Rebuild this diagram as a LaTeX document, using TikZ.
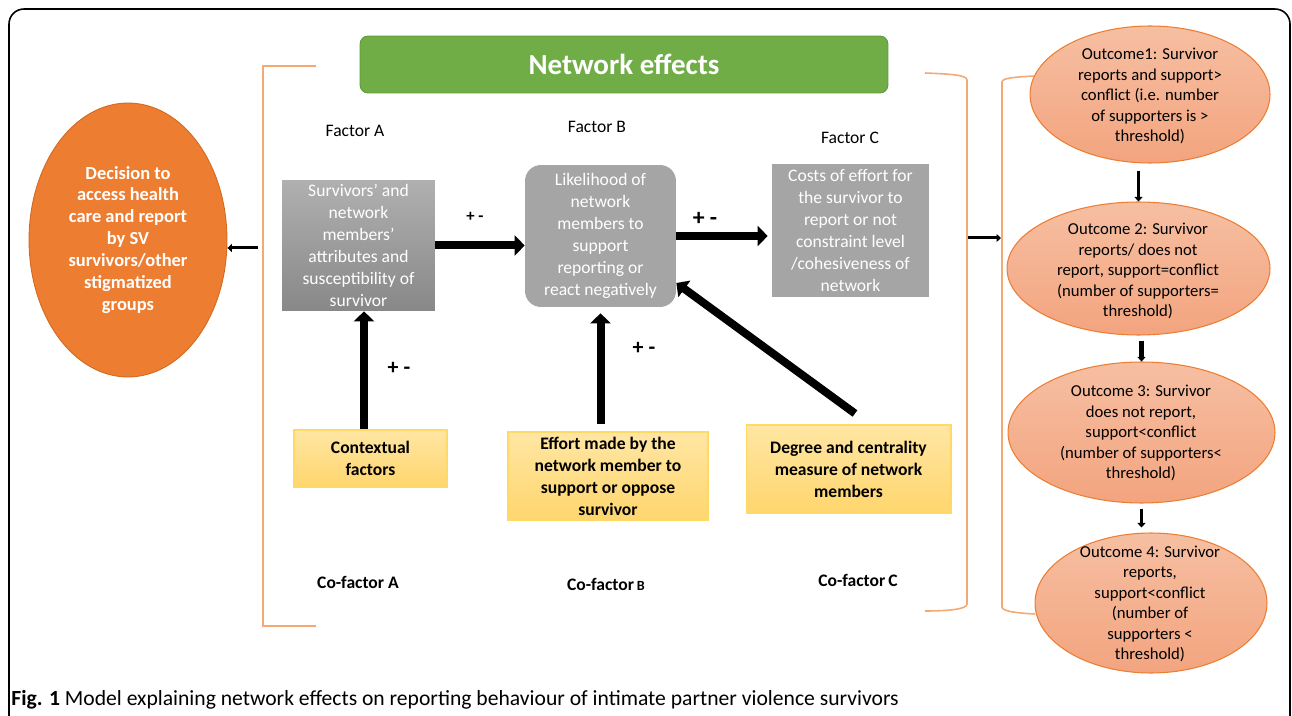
\documentclass[tikz,border=0pt]{standalone}
\usepackage{fontspec}
\setmainfont{Carlito}
\usetikzlibrary{positioning,arrows.meta,shapes.geometric}

\definecolor{netgreen}{HTML}{70AD47}
\definecolor{netgreenline}{HTML}{5E9A3B}
\definecolor{decorange}{HTML}{ED7D31}
\definecolor{decline}{HTML}{D2691E}
\definecolor{brkorange}{HTML}{F4A874}
\definecolor{boxgrey}{HTML}{A5A5A5}
\definecolor{greytop}{HTML}{B0B0B0}
\definecolor{greybottom}{HTML}{888888}
\definecolor{yelltop}{HTML}{FFE6A3}
\definecolor{yellbottom}{HTML}{FFD66E}
\definecolor{yellline}{HTML}{FFD966}
\definecolor{outtop}{HTML}{F6BFA2}
\definecolor{outbottom}{HTML}{F3A47F}
\definecolor{outline}{HTML}{ED7D31}

\begin{document}
\begin{tikzpicture}[
    x=0.02cm, y=-0.02cm,
    every node/.style={align=center, inner sep=0pt},
    base/.style={font=\fontsize{10}{12.5}\selectfont},
    greybox/.style={base, rectangle, fill=boxgrey, text=white},
    yellowbox/.style={base, rectangle, draw=yellline, line width=0.6pt, top color=yelltop, bottom color=yellbottom, font=\fontsize{10}{12.5}\selectfont\bfseries},
    outcome/.style={ellipse, draw=outline, line width=0.6pt, top color=outtop, bottom color=outbottom},
    outtext/.style={font=\fontsize{9.5}{11.7}\selectfont},
    factor/.style={font=\fontsize{10}{12}\selectfont},
    cofactor/.style={font=\fontsize{10}{12}\selectfont\bfseries},
    sign/.style={font=\fontsize{12.5}{14}\selectfont\bfseries},
    bracket/.style={draw=brkorange, line width=0.9pt},
    flow/.style={line width=0.16cm, -{Triangle[length=0.2cm, width=0.4cm]}},
    link/.style={line width=0.06cm, -{Triangle[length=0.09cm, width=0.16cm]}}
]
\useasboundingbox (0,0) rectangle (1292,716);

% Frame
\draw[line width=0.9pt, rounded corners=0.3cm] (9,716) -- (9,9) -- (1290,9) -- (1290,716);

% Title
\node[rectangle, rounded corners=0.16cm, fill=netgreen, draw=netgreenline, line width=0.5pt,
      minimum width=10.56cm, minimum height=1.14cm, text=white,
      font=\fontsize{16.5}{19}\selectfont\bfseries] (title) at (624,64.5) {Network effects};

% Decision
\node[ellipse, fill=decorange, draw=decline, line width=0.5pt, minimum width=3.96cm, minimum height=5.48cm,
      text=white, font=\fontsize{10.5}{12.5}\selectfont\bfseries] (decision) at (128,240)
      {Decision to\\access health\\care and report\\by SV\\survivors/other\\stigmatized\\groups};

% Factor labels
\node[factor] (facA) at (355,131) {Factor A};
\node[factor] (facB) at (597,127) {Factor B};
\node[factor] (facC) at (850,138) {Factor C};

% Factors
\node[greybox, top color=greytop, bottom color=greybottom, minimum width=3.06cm, minimum height=2.62cm]
      (boxA) at (358.5,245.5) {Survivors’ and\\network\\members’\\attributes and\\susceptibility of\\survivor};
\node[greybox, rounded corners=0.32cm, minimum width=3.02cm, minimum height=2.84cm]
      (boxB) at (600.5,236) {Likelihood of\\network\\members to\\support\\reporting or\\react negatively};
\node[greybox, minimum width=3.14cm, minimum height=2.66cm]
      (boxC) at (850.5,230.5) {Costs of effort for\\the survivor to\\report or not\\constraint level\\/cohesiveness of\\network};

% Co-factors
\node[yellowbox, minimum width=3.06cm, minimum height=1.14cm] (ctx) at (370.5,458.5) {Contextual\\factors};
\node[yellowbox, minimum width=4.0cm, minimum height=1.76cm] (effort) at (608,476)
      {Effort made by the\\network member to\\support or oppose\\survivor};
\node[yellowbox, minimum width=4.1cm, minimum height=1.76cm] (degree) at (848.5,469)
      {Degree and centrality\\measure of network\\members};

\node[cofactor] (cofA) at (358,582) {Co-factor A};
\node[cofactor] (cofB) at (606,584) {Co-factor\,{\fontsize{8}{10}\selectfont B}};
\node[cofactor] (cofC) at (858,580) {Co-factor\,C};

% Arrows between factors
\draw[flow] (boxA.east) -- (boxA.east -| boxB.west);
\draw[flow, shorten >=0.08cm] (boxB.east) -- (boxB.east -| boxC.west);
\draw[flow] ([xshift=-0.13cm]ctx.north) -- ([xshift=-0.13cm]ctx.north |- boxA.south);
\draw[flow, shorten <=0.14cm, shorten >=0.12cm] (effort.north -| boxB.south) -- (boxB.south);
\draw[flow] ([xshift=0.13cm, yshift=0.22cm]degree.north) -- ([yshift=-0.94cm]boxB.east);

\node[sign, font=\fontsize{9.5}{11}\selectfont\bfseries] (sAB) at (475,217) {+ -};
\node[sign, font=\fontsize{13.5}{15}\selectfont\bfseries] (sBC) at (705,219) {+ -};
\node[sign] (sA) at (399,368) {+ -};
\node[sign] (sB) at (644,348) {+ -};

% Brackets
\draw[bracket] (316,66) -- (263,66) -- (263,626) -- (316,626);
\draw[bracket] (925,73) .. controls (950,74) and (967,75) .. (967,80) -- (967,604)
      .. controls (967,609) and (950,611) .. (925,611);
\draw[bracket] (1035,76) .. controls (1015,77) and (1002,78) .. (1002,82) -- (1002,607)
      .. controls (1002,611) and (1015,613) .. (1035,614);
\coordinate (lbk) at (258,248);
\coordinate (rbk) at (968,238);
\coordinate (obk) at (1001,238);
\draw[link] (lbk) -- (lbk -| decision.east);
\draw[link] (rbk) -- (obk);

% Outcomes
\node[outcome, minimum width=4.8cm, minimum height=2.74cm] (o1) at (1150,94.5) {};
\node[outcome, minimum width=5.26cm, minimum height=2.66cm] (o2) at (1138.5,268.5) {};
\node[outcome, minimum width=5.34cm, minimum height=2.82cm] (o3) at (1141.5,432.5) {};
\node[outcome, minimum width=4.64cm, minimum height=2.8cm] (o4) at (1151,603) {};

\node[outtext] (o1t) at (1150,96) {Outcome1: Survivor\\reports and support>\\conflict (i.e. number\\of supporters is >\\threshold)};
\node[outtext] (o2t) at (1138,271) {Outcome 2: Survivor\\reports/ does not\\report, support=conflict\\(number of supporters=\\threshold)};
\node[outtext] (o3t) at (1141,433) {Outcome 3: Survivor\\does not report,\\support<conflict\\(number of supporters<\\threshold)};
\node[outtext] (o4t) at (1150,604) {Outcome 4: Survivor\\reports,\\support<conflict\\(number of\\supporters <\\threshold)};

\draw[link, shorten <=0.14cm] (o1.south -| o2.north) -- (o2.north);
\draw[link, line width=0.1cm, shorten <=0.1cm] (o2.south -| o3.north) -- (o3.north);
\draw[link, shorten <=0.1cm, shorten >=0.1cm] (o3.south) -- (o3.south |- o4.north);

% Caption
\node[anchor=base west, font=\fontsize{12.3}{14}\selectfont] (caption) at (11,705)
      {\textbf{Fig. 1} Model explaining network effects on reporting behaviour of intimate partner violence survivors};

\end{tikzpicture}
\end{document}
